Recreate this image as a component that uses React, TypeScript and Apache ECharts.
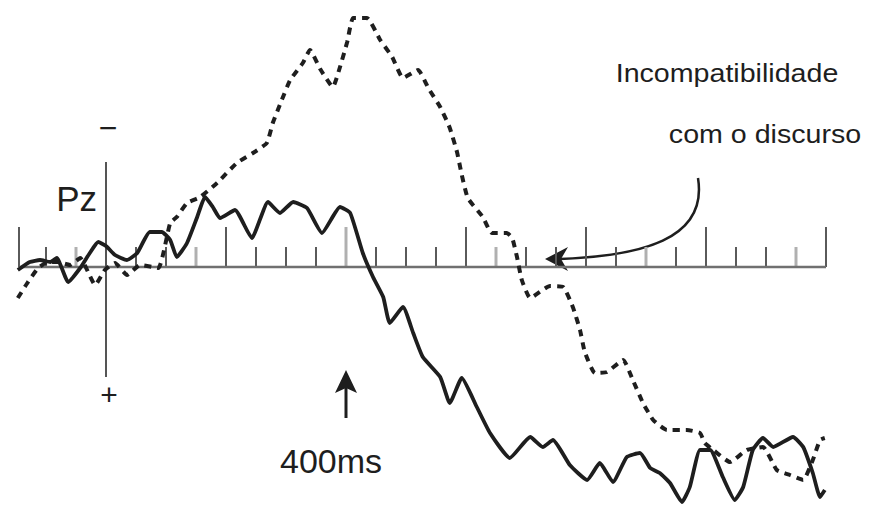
import React, { useEffect, useRef } from "react";
import * as echarts from "echarts";

// time (ms) and amplitude (µV, negative up) for the congruent condition (solid)
const solidTimes = [-147, -127, -110, -93, -82, -63, -43, -27, -13, 0, 15, 35, 52, 73, 93, 107, 118, 135, 152, 165, 178, 190, 215, 243, 270, 290, 312, 335, 360, 390, 407, 428, 445, 462, 473, 495, 512, 528, 557, 573, 593, 618, 640, 673, 707, 728, 745, 773, 802, 823, 845, 868, 890, 907, 923, 940, 960, 973, 990, 1007, 1028, 1048, 1062, 1078, 1095, 1112, 1145, 1162, 1178, 1190, 1198];
const solidValues = [0.3, -0.5, -0.7, -0.5, -0.9, 1.5, 0.1, -1.4, -2.5, -2.1, -1.2, -0.7, -1.4, -3.5, -3.5, -2.7, -1.0, -2.4, -5.0, -7.0, -6.0, -4.9, -5.7, -2.9, -6.5, -5.4, -6.5, -5.9, -3.4, -6.0, -5.4, -1.4, 1.0, 3.0, 5.6, 4.0, 6.6, 9.0, 11.0, 13.6, 11.1, 14.0, 16.6, 19.1, 17.0, 18.0, 17.3, 19.8, 21.3, 19.6, 21.5, 19.0, 18.6, 20.1, 20.6, 21.6, 23.5, 22.0, 18.3, 18.3, 21.0, 23.3, 22.0, 18.3, 17.1, 18.0, 17.0, 18.0, 20.6, 23.0, 22.3];

// incompatibility with the discourse (dashed)
const dashedTimes = [-147, -130, -113, -97, -80, -60, -43, -18, -2, 15, 35, 57, 87, 107, 118, 135, 157, 185, 218, 245, 268, 278, 293, 307, 328, 340, 357, 378, 390, 402, 412, 435, 457, 477, 495, 520, 538, 557, 573, 585, 593, 603, 628, 643, 668, 677, 685, 693, 707, 740, 762, 778, 790, 798, 815, 835, 862, 878, 895, 912, 935, 968, 990, 998, 1012, 1040, 1068, 1095, 1118, 1140, 1162, 1178, 1190, 1198];
const dashedValues = [3.1, 1.5, 0.1, -0.5, -0.5, -0.2, -0.9, 1.8, 0.3, -0.4, 0.8, -0.2, 0.1, -4.4, -5.0, -6.4, -7.0, -8.4, -10.4, -11.4, -12.4, -14.4, -16.7, -18.7, -20.4, -21.7, -19.8, -18.0, -20.0, -22.5, -24.9, -24.9, -22.7, -21.0, -18.9, -19.7, -17.8, -16.0, -13.9, -11.5, -9.2, -6.9, -5.0, -3.4, -3.4, -2.9, -1.0, 1.3, 3.1, 1.9, 2.0, 4.0, 6.3, 8.5, 10.6, 10.5, 9.3, 11.3, 13.6, 15.3, 16.3, 16.3, 16.6, 17.6, 18.3, 19.5, 18.3, 18.0, 20.3, 20.8, 21.3, 19.3, 17.3, 17.1];

// time-axis ticks (ms)
const tickTimes = [-145, -100, -50, 50, 100, 150, 200, 250, 300, 350, 400, 450, 500, 550, 600, 650, 700, 750, 800, 850, 900, 950, 1000, 1050, 1100, 1150, 1200];
const tallTicks = [-145, 200, 400, 600, 800, 1000, 1200];
const grayTicks = [-50, 150, 400, 650, 900, 1150];

const axisStart = -145;
const axisEnd = 1200;
const vAxisTop = -10.5;
const vAxisBottom = 11;

export default function App() {
  const ref = useRef<HTMLDivElement>(null);

  useEffect(() => {
    if (!ref.current) return;
    const chart = echarts.init(ref.current, null, { renderer: "svg" });
    const font = "'Liberation Sans', Arial, sans-serif";
    const ink = "#1e1e1e";

    const solid = solidTimes.map((t, i) => [t, solidValues[i]]);
    const dashed = dashedTimes.map((t, i) => [t, dashedValues[i]]);
    const ticks = tickTimes.map((t) => [t, tallTicks.includes(t) ? 4 : 2, grayTicks.includes(t) ? 1 : 0]);

    chart.setOption({
      animation: false,
      backgroundColor: "#ffffff",
      grid: { left: 16, width: 810, top: 0, height: 509, containLabel: false },
      xAxis: { type: "value", min: -150, max: 1200, show: false },
      yAxis: { type: "value", min: -26.7, max: 24.2, inverse: true, show: false },
      series: [
        {
          type: "custom",
          silent: true,
          data: ticks,
          renderItem: (params: any, api: any) => {
            const t = api.value(0);
            const len = api.value(1);
            const gray = api.value(2);
            const p0 = api.coord([t, 0]);
            const p1 = api.coord([t, -len]);
            return {
              type: "line",
              shape: { x1: p0[0], y1: p0[1], x2: p1[0], y2: p1[1] },
              style: { stroke: gray ? "#b0b0b0" : "#5a5a5a", lineWidth: gray ? 3 : 2 },
            };
          },
          z: 1,
        },
        {
          type: "line",
          silent: true,
          data: [[axisStart, 0], [axisEnd, 0]],
          symbol: "none",
          lineStyle: { color: "#707070", width: 2.5 },
          z: 2,
        },
        {
          type: "line",
          silent: true,
          data: [[0, vAxisTop], [0, vAxisBottom]],
          symbol: "none",
          lineStyle: { color: "#555555", width: 2 },
          z: 2,
        },
        {
          type: "line",
          silent: true,
          data: dashed,
          symbol: "none",
          smooth: 0.15,
          lineStyle: { color: ink, width: 4, type: [7, 6] },
          z: 3,
        },
        {
          type: "line",
          silent: true,
          data: solid,
          symbol: "none",
          smooth: 0.15,
          lineStyle: { color: ink, width: 3.8 },
          z: 4,
        },
      ],
      graphic: [
        { type: "text", x: 97, y: 198, style: { text: "Pz", font: `35px ${font}`, fill: ink, align: "right", verticalAlign: "middle" } },
        { type: "text", x: 108, y: 128, style: { text: "\u2212", font: `32px ${font}`, fill: ink, align: "center", verticalAlign: "middle" } },
        { type: "text", x: 109, y: 394, style: { text: "+", font: `30px ${font}`, fill: ink, align: "center", verticalAlign: "middle" } },
        { type: "text", x: 331, y: 461, style: { text: "400ms", font: `34px ${font}`, fill: ink, align: "center", verticalAlign: "middle" } },
        { type: "text", x: 727, y: 73, scaleX: 1.1, originX: 0, originY: 0, style: { text: "Incompatibilidade", font: `26px ${font}`, fill: ink, align: "center", verticalAlign: "middle" } },
        { type: "text", x: 765, y: 134, scaleX: 1.1, originX: 0, originY: 0, style: { text: "com o discurso", font: `26px ${font}`, fill: ink, align: "center", verticalAlign: "middle" } },
        { type: "line", shape: { x1: 346, y1: 386, x2: 346, y2: 418 }, style: { stroke: ink, lineWidth: 3 } },
        { type: "polygon", shape: { points: [[346, 370], [357, 393], [346, 388], [335, 393]] }, style: { fill: ink } },
        { type: "bezierCurve", shape: { x1: 698, y1: 178, cpx1: 708, cpy1: 240, cpx2: 640, cpy2: 256, x2: 560, y2: 259 }, style: { stroke: ink, lineWidth: 2.5, fill: null } },
        { type: "polygon", shape: { points: [[545, 259], [568, 247], [561, 259], [568, 271]] }, style: { fill: ink } },
      ],
    });

    return () => chart.dispose();
  }, []);

  return <div ref={ref} style={{ position: "fixed", left: 0, top: 0, width: 871, height: 509, background: "#fff" }} />;
}
